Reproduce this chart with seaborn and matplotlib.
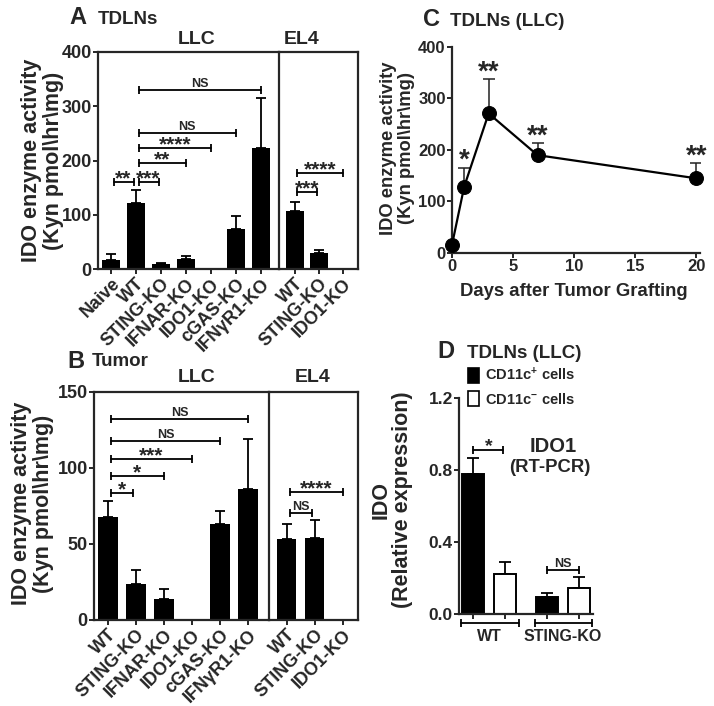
import numpy as np
import pandas as pd
import seaborn as sns
import matplotlib.pyplot as plt
from matplotlib.patches import Patch

# ---- data ----
# A: TDLNs, IDO activity
A_llc_labels = ['Naive', 'WT', 'STING-KO', 'IFNAR-KO', 'IDO1-KO', 'cGAS-KO', 'IFNγR1-KO']
A_llc_mean = [17, 122, 10, 18, 0, 74, 223]
A_llc_sem = [11, 24, 1, 6, 0, 24, 92]
A_el4_labels = ['WT', 'STING-KO', 'IDO1-KO']
A_el4_mean = [107, 30, 0]
A_el4_sem = [17, 5, 0]
A_llc_sig = [(0, 1, 160, '**'), (1, 2, 160, '***'), (1, 3, 195, '**'),
             (1, 4, 223, '****'), (1, 5, 250, 'NS'), (1, 6, 330, 'NS')]
A_el4_sig = [(0, 1, 142, '***'), (0, 2, 177, '****')]

# B: Tumor, IDO activity
B_llc_labels = ['WT', 'STING-KO', 'IFNAR-KO', 'IDO1-KO', 'cGAS-KO', 'IFNγR1-KO']
B_llc_mean = [68, 24, 13.5, 0, 63, 86]
B_llc_sem = [10, 9, 7, 0, 9, 33]
B_el4_labels = ['WT', 'STING-KO', 'IDO1-KO']
B_el4_mean = [53, 54, 0]
B_el4_sem = [10, 12, 0]
B_llc_sig = [(0, 1, 83.6, '*'), (0, 2, 94.8, '*'), (0, 3, 106, '***'),
             (0, 4, 117.6, 'NS'), (0, 5, 132.5, 'NS')]
B_el4_sig = [(0, 1, 70.5, 'NS'), (0, 2, 84.3, '****')]

# C: time course
C_days = [0, 1, 3, 7, 20]
C_mean = [16, 129, 271, 190, 145]
C_sem = [0, 37, 66, 23, 29]
C_stars = ['', '*', '**', '**', '**']

# D: RT-PCR
D_groups = ['WT', 'WT', 'STING-KO', 'STING-KO']
D_cells = ['CD11c+', 'CD11c-', 'CD11c+', 'CD11c-']
D_mean = [0.776, 0.225, 0.092, 0.146]
D_sem = [0.091, 0.065, 0.026, 0.057]

sns.set_style('ticks')
plt.rcParams['font.family'] = ['Liberation Sans', 'DejaVu Sans']
plt.rcParams['font.weight'] = 'bold'
plt.rcParams['axes.labelweight'] = 'bold'
plt.rcParams['axes.linewidth'] = 1.6
plt.rcParams['mathtext.fontset'] = 'custom'
plt.rcParams['mathtext.rm'] = 'Liberation Sans:bold'
plt.rcParams['mathtext.bf'] = 'Liberation Sans:bold'
plt.rcParams['mathtext.default'] = 'rm'

W, H = 714, 706
fig = plt.figure(figsize=(W / 100, H / 100), dpi=100)


def box(l, t, r, b):
    return [l / W, 1 - b / H, (r - l) / W, (b - t) / H]


def tick_style(ax, fs):
    ax.tick_params(direction='out', length=3.5, width=1.4, labelsize=fs, pad=1)


def bars(ax, labels, mean, sem, width, fs_x):
    sns.barplot(x=labels, y=mean, color='black', width=width, errorbar=None,
                saturation=1, edgecolor='black', linewidth=0, ax=ax)
    ax.errorbar(range(len(mean)), mean, yerr=[np.zeros(len(sem)), sem], fmt='none',
                ecolor='black', elinewidth=1.3, capsize=3.5, capthick=1.3)
    ax.set_xticks(range(len(labels)))
    ax.set_xticklabels(labels, rotation=45, ha='right', rotation_mode='anchor',
                       fontsize=fs_x, fontweight='bold')
    ax.set_facecolor('none')
    for s in ax.spines.values():
        s.set_visible(True)
        s.set_linewidth(1.6)


def sig(ax, pairs, fs_star, fs_ns):
    for i, j, y, txt in pairs:
        inset = 0.1
        x1, x2 = i + inset, j - inset if j - i == 1 else j
        ax.plot([x1, x2], [y, y], color='black', lw=1.3, marker='|', ms=5.5, mew=1.3,
                clip_on=False)
        if txt == 'NS':
            ax.annotate(txt, ((x1 + x2) / 2, y), xytext=(0, 0), textcoords='offset points',
                        ha='center', va='bottom', fontsize=fs_ns, fontweight='bold')
        else:
            ax.annotate(txt, ((x1 + x2) / 2, y), xytext=(0, 2.5), textcoords='offset points',
                        ha='center', va='center', fontsize=fs_star, fontweight='bold')


# ---------------- Panel A ----------------
axA1 = fig.add_axes(box(98, 52, 279, 269))
axA2 = fig.add_axes(box(279, 52, 358, 269))
bars(axA1, A_llc_labels, A_llc_mean, A_llc_sem, 0.75, 13)
bars(axA2, A_el4_labels, A_el4_mean, A_el4_sem, 0.75, 13)
for ax in (axA1, axA2):
    ax.set_ylim(0, 400)
    tick_style(ax, 13)
axA1.set_xlim(-0.52, 6.72)
axA2.set_xlim(-0.67, 2.63)
axA1.set_yticks([0, 100, 200, 300, 400])
axA2.tick_params(left=False, labelleft=False)
axA2.spines['left'].set_visible(False)
axA1.set_ylabel('IDO enzyme activity\n' + r'(Kyn pmol\hr\mg)', fontsize=15.5,
                linespacing=1.05)
axA1.yaxis.set_label_coords(-0.19, 0.5)
sig(axA1, A_llc_sig, 15, 9)
sig(axA2, A_el4_sig, 15, 9)

fig.text(69 / W, 1 - 18 / H, 'A', fontsize=17, fontweight='bold', va='center')
fig.text(98 / W, 1 - 19 / H, 'TDLNs', fontsize=13.5, fontweight='bold', va='center')
fig.text(197 / W, 1 - 40 / H, 'LLC', fontsize=14, fontweight='bold', ha='center', va='center')
fig.text(302 / W, 1 - 40 / H, 'EL4', fontsize=14, fontweight='bold', ha='center', va='center')

# ---------------- Panel B ----------------
axB1 = fig.add_axes(box(94, 392, 269, 620))
axB2 = fig.add_axes(box(269, 392, 358, 620))
bars(axB1, B_llc_labels, B_llc_mean, B_llc_sem, 0.68, 13.5)
bars(axB2, B_el4_labels, B_el4_mean, B_el4_sem, 0.68, 13.5)
for ax in (axB1, axB2):
    ax.set_ylim(0, 150)
    tick_style(ax, 13)
axB1.set_xlim(-0.5, 5.75)
axB2.set_xlim(-0.64, 2.54)
axB1.set_yticks([0, 50, 100, 150])
axB2.tick_params(left=False, labelleft=False)
axB2.spines['left'].set_visible(False)
axB1.set_ylabel('IDO enzyme activity\n' + r'(Kyn pmol\hr\mg)', fontsize=15.5,
                linespacing=1.05)
axB1.yaxis.set_label_coords(-0.23, 0.51)
sig(axB1, B_llc_sig, 15, 9)
sig(axB2, B_el4_sig, 15, 9)

fig.text(67 / W, 1 - 361 / H, 'B', fontsize=17, fontweight='bold', va='center')
fig.text(92 / W, 1 - 362 / H, 'Tumor', fontsize=13.5, fontweight='bold', va='center')
fig.text(197 / W, 1 - 378 / H, 'LLC', fontsize=14, fontweight='bold', ha='center', va='center')
fig.text(313 / W, 1 - 378 / H, 'EL4', fontsize=14, fontweight='bold', ha='center', va='center')

# ---------------- Panel C ----------------
axC = fig.add_axes(box(452, 47, 700, 253))
c_df = pd.DataFrame({'day': C_days, 'ido': C_mean})
sns.lineplot(data=c_df, x='day', y='ido', color='black', lw=1.6, marker='o',
             markersize=10, markeredgecolor='black', ax=axC, clip_on=False, zorder=3)
axC.errorbar(C_days, C_mean, yerr=[np.zeros(len(C_sem)), C_sem], fmt='none',
             ecolor='#222222', elinewidth=1.1, capsize=4.3, capthick=1.1, zorder=1)
for d, m, s, st in zip(C_days, C_mean, C_sem, C_stars):
    if st:
        axC.annotate(st, (d, m + s), xytext=(0, 5), textcoords='offset points',
                     ha='center', va='center', fontsize=20, fontweight='bold')
axC.set_xlim(0, 20.3)
axC.set_ylim(0, 400)
axC.set_xticks([0, 5, 10, 15, 20])
axC.set_yticks([0, 100, 200, 300, 400])
tick_style(axC, 12)
sns.despine(ax=axC)
axC.set_ylabel('IDO enzyme activity\n' + r'(Kyn pmol\hr\mg)', fontsize=13.2,
               linespacing=1.05)
axC.yaxis.set_label_coords(-0.149, 0.51)
axC.set_xlabel('Days after Tumor Grafting', fontsize=13.3)
axC.xaxis.set_label_coords(0.49, -0.145)

fig.text(423 / W, 1 - 20 / H, 'C', fontsize=17, fontweight='bold', va='center')
fig.text(450 / W, 1 - 21 / H, 'TDLNs (LLC)', fontsize=13.5, fontweight='bold', va='center')

# ---------------- Panel D ----------------
axD = fig.add_axes(box(459, 398, 593, 614))
d_df = pd.DataFrame({'group': D_groups, 'cell': D_cells, 'ido': D_mean})
sns.barplot(data=d_df, x='group', y='ido', hue='cell',
            palette={'CD11c+': 'black', 'CD11c-': 'white'}, edgecolor='black',
            linewidth=1.4, width=0.87, gap=0.3, errorbar=None, saturation=1,
            legend=False, ax=axD)
off = 0.87 / 4
d_pos = [g + o for g in range(2) for o in (-off, off)]
axD.errorbar(d_pos, D_mean, yerr=[np.zeros(len(D_sem)), D_sem], fmt='none',
             ecolor='black', elinewidth=1.3, capsize=4.5, capthick=1.3, zorder=0)
axD.set_xlim(-0.41, 1.41)
axD.set_ylim(0, 1.2)
axD.set_yticks([0, 0.4, 0.8, 1.2])
axD.set_yticklabels(['0.0', '0.4', '0.8', '1.2'])
axD.set_xticks(d_pos)
axD.set_xticklabels([])
axD.set_xlabel('')
tick_style(axD, 12.5)
sns.despine(ax=axD)
axD.set_ylabel('IDO\n(Relative expression)', fontsize=15.5, linespacing=1.05)
axD.yaxis.set_label_coords(-0.34, 0.53)

# group brackets under the axis
tr = axD.get_xaxis_transform()
for g, name in enumerate(['WT', 'STING-KO']):
    x1, x2 = g - 0.38, g + 0.40
    axD.plot([x1, x2], [-0.042, -0.042], color='black', lw=1.3, marker='|', ms=5.5,
             mew=1.3, transform=tr, clip_on=False)
    axD.text(g, -0.105, name, transform=tr, ha='center', va='center', fontsize=11.5,
             fontweight='bold')

# significance in D
axD.plot([d_pos[0], d_pos[1] - 0.03], [0.909, 0.909], color='black', lw=1.3, marker='|',
         ms=5.5, mew=1.3)
axD.annotate('*', ((d_pos[0] + d_pos[1]) / 2, 0.909), xytext=(0, 3),
             textcoords='offset points', ha='center', va='center', fontsize=14,
             fontweight='bold')
axD.plot([d_pos[2], d_pos[3]], [0.244, 0.244], color='black', lw=1.3, marker='|',
         ms=5.5, mew=1.3)
axD.annotate('NS', ((d_pos[2] + d_pos[3]) / 2, 0.244), xytext=(0, 0),
             textcoords='offset points', ha='center', va='bottom', fontsize=9,
             fontweight='bold')

fig.text(553 / W, 1 - 447 / H, 'IDO1', fontsize=14.5, fontweight='bold', ha='center',
         va='center')
fig.text(550 / W, 1 - 468 / H, '(RT-PCR)', fontsize=13.3, fontweight='bold', ha='center',
         va='center')

handles = [Patch(facecolor='black', edgecolor='black', lw=1.2),
           Patch(facecolor='white', edgecolor='black', lw=1.2)]
fig.legend(handles, ['CD11c$^{+}$ cells', 'CD11c$^{-}$ cells'], loc='upper left',
           bbox_to_anchor=(468 / W, 1 - 366 / H), frameon=False, fontsize=10.5,
           handlelength=0.75, handleheight=1.16, handletextpad=0.4, labelspacing=0.55,
           borderpad=0, borderaxespad=0)

fig.text(437 / W, 1 - 352 / H, 'D', fontsize=17, fontweight='bold', va='center')
fig.text(467 / W, 1 - 353 / H, 'TDLNs (LLC)', fontsize=13.5, fontweight='bold', va='center')

fig.savefig('out.png', dpi=100)
